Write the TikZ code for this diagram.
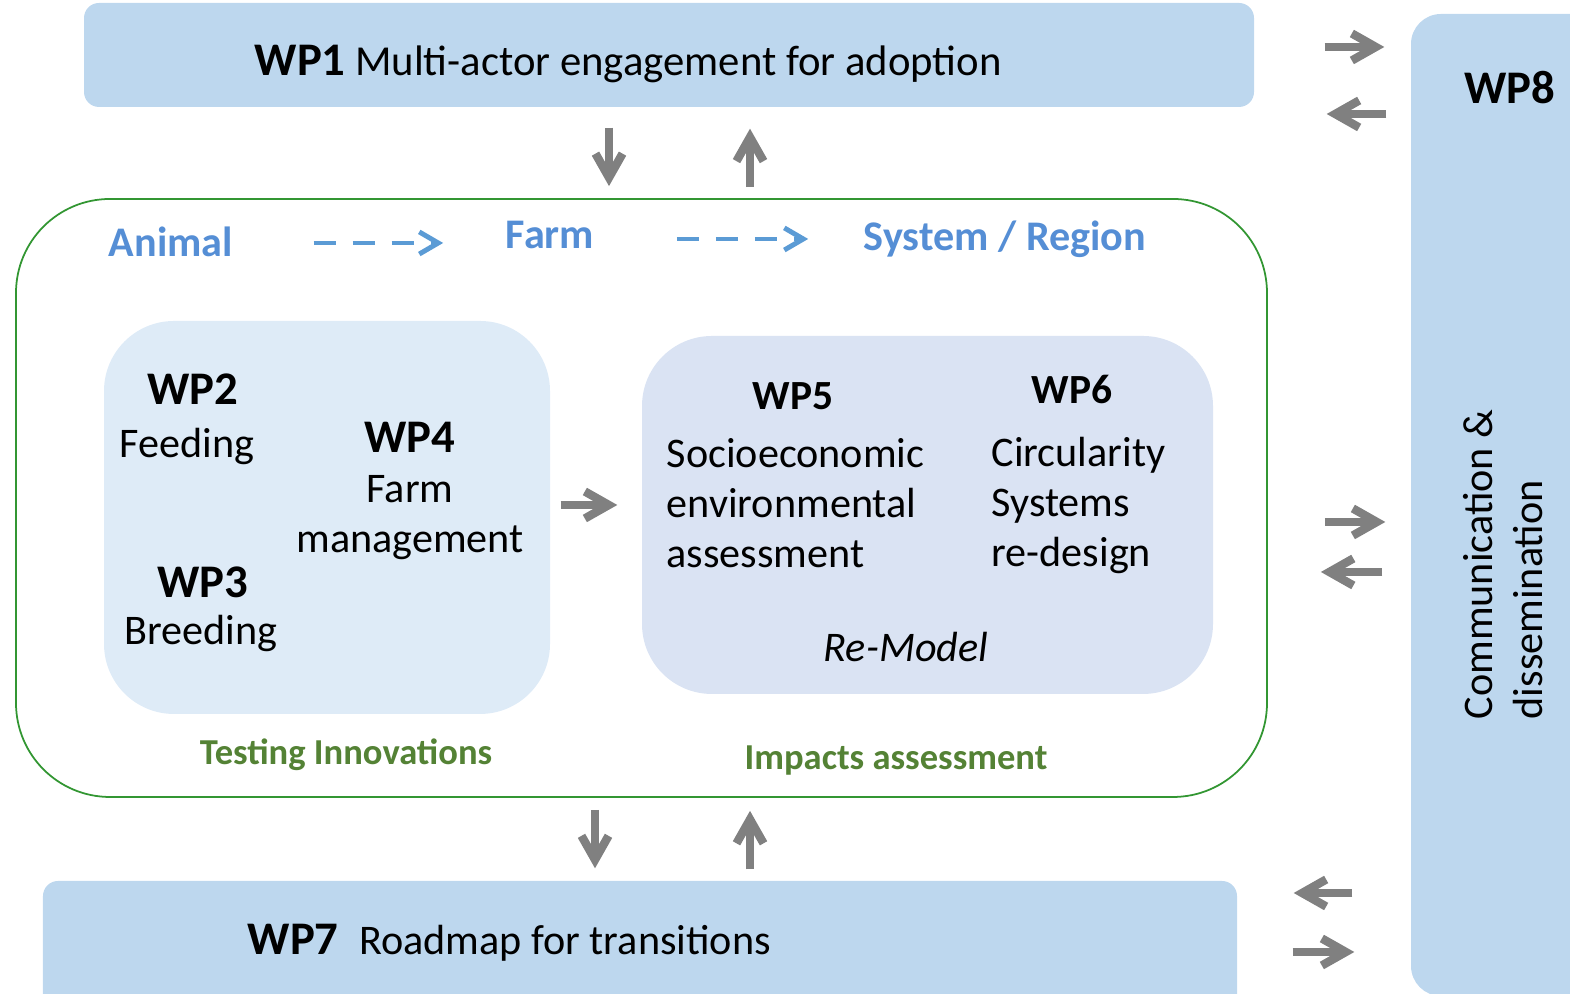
\documentclass[tikz,border=0pt]{standalone}
\usepackage{fontspec}
\setmainfont{Carlito}
\usetikzlibrary{arrows.meta}
\definecolor{wpblue}{RGB}{189,215,238}
\definecolor{testfill}{RGB}{222,235,247}
\definecolor{impactfill}{RGB}{218,227,243}
\definecolor{linkgray}{RGB}{128,128,128}
\definecolor{labelblue}{RGB}{85,142,213}
\definecolor{dashblue}{RGB}{91,155,213}
\definecolor{groupgreen}{RGB}{84,130,53}
\definecolor{framegreen}{RGB}{50,150,50}
\begin{document}
\begin{tikzpicture}[
    font=\fontsize{12}{14.3}\selectfont,
    bar/.style={fill=wpblue, rounded corners=0.15cm, inner sep=0},
    inbox/.style={rounded corners=0.7cm, inner sep=0},
    wp/.style={font=\fontsize{13.3}{16}\selectfont\bfseries, inner sep=0, anchor=base},
    txt/.style={inner sep=0, align=left, anchor=base west},
    scale label/.style={font=\fontsize{12}{14.3}\selectfont\bfseries, text=labelblue, inner sep=0, anchor=base},
    group label/.style={font=\fontsize{10.4}{12.5}\selectfont\bfseries, text=groupgreen, inner sep=0, anchor=base},
    link/.style={draw=linkgray, line width=2.4pt, -{Straight Barb[length=6.8pt,width=7.7pt]}},
    scale link/.style={draw=dashblue, line width=1.4pt, dash pattern=on 0.22cm off 0.17cm, -{Straight Barb[length=5.4pt,width=6.3pt]}},
]
    \useasboundingbox (0,0) rectangle (15.70,9.94);
    %% work package bars
    \node[bar, minimum width=11.70cm, minimum height=1.04cm] (wp1) at (6.69,9.39) {};
    \node[bar, minimum width=11.94cm, minimum height=1.33cm] (wp7) at (6.40,0.465) {};
    \node[bar, rounded corners=0.3cm, minimum width=1.89cm, minimum height=9.82cm] (wp8) at (15.055,4.89) {};
    \node[anchor=base west, inner sep=0] (wp1t) at (2.54,9.18) {{\fontsize{13.3}{16}\selectfont\bfseries WP1} \fontsize{12.15}{14.5}\selectfont Multi-actor engagement for adoption};
    \node[anchor=base west, inner sep=0] (wp7t) at (2.47,0.39) {{\fontsize{13.3}{16}\selectfont\bfseries WP7}\hspace{0.11cm} Roadmap for transitions};
    \node[wp] (wp8t) at (15.10,8.90) {WP8};
    \node[rotate=90, anchor=west, align=left, inner sep=0] (comm) at (15.03,2.74) {Communication \&\\dissemination};
    %% scales frame
    \node[draw=framegreen, line width=0.5pt, rounded corners=0.94cm, minimum width=12.51cm, minimum height=5.98cm, inner sep=0] (scales) at (6.415,4.96) {};
    \node[scale label] (animal) at (1.71,7.37) {Animal};
    \node[scale label] (farm) at (5.50,7.45) {Farm};
    \node[scale label] (region) at (10.05,7.43) {System / Region};
    \draw[scale link, shorten <=0.80cm, shorten >=0.62cm] (animal.east |- 0,7.51) -- (farm.west |- 0,7.51);
    \draw[scale link, shorten <=0.82cm, shorten >=0.55cm] (farm.east |- 0,7.55) -- (region.west |- 0,7.55);
    %% testing innovations
    \node[inbox, fill=testfill, minimum width=4.46cm, minimum height=3.93cm] (testbox) at (3.27,4.765) {};
    \node[wp] (wp2) at (1.93,5.89) {WP2};
    \node[txt] (feeding) at (1.19,5.36) {Feeding};
    \node[wp] (wp4) at (4.10,5.41) {WP4};
    \node[txt, align=center, anchor=base] (mgmt) at (4.10,4.41) {Farm\\management};
    \node[wp] (wp3) at (2.03,3.96) {WP3};
    \node[txt] (breeding) at (1.24,3.49) {Breeding};
    \node[group label] (testing) at (3.46,2.29) {Testing Innovations};
    %% impacts assessment
    \node[inbox, fill=impactfill, minimum width=5.71cm, minimum height=3.58cm] (impactbox) at (9.275,4.79) {};
    \node[wp, font=\fontsize{11.8}{14}\selectfont\bfseries] (wp5) at (7.93,5.84) {WP5};
    \node[wp, font=\fontsize{11.8}{14}\selectfont\bfseries] (wp6) at (10.72,5.90) {WP6};
    \node[txt] (socio) at (6.66,4.26) {Socioeconomic\\environmental\\assessment};
    \node[txt] (circ) at (9.91,4.27) {Circularity\\Systems\\re-design};
    \node[inner sep=0, anchor=base, font=\fontsize{12}{14.3}\selectfont\itshape] (remodel) at (9.06,3.32) {Re-Model};
    \node[group label] (impacts) at (8.96,2.24) {Impacts assessment};
    %% links
    \draw[link, shorten <=0.20cm, shorten >=0.12cm] (wp1.south -| 6.09,0) -- (scales.north -| 6.09,0);
    \draw[link, shorten <=0.11cm, shorten >=0.21cm] (scales.north -| 7.50,0) -- (wp1.south -| 7.50,0);
    \draw[link, shorten <=0.12cm, shorten >=0.12cm] (scales.south -| 5.95,0) -- (wp7.north -| 5.95,0);
    \draw[link, shorten <=0.11cm, shorten >=0.13cm] (wp7.north -| 7.50,0) -- (scales.south -| 7.50,0);
    \draw[link, shorten <=0.10cm, shorten >=0.24cm] (testbox.east |- 0,4.89) -- (impactbox.west |- 0,4.89);
    \draw[link, shorten <=0.70cm, shorten >=0.26cm] (wp1.east |- 0,9.47) -- (wp8.west |- 0,9.47);
    \draw[link, shorten <=0.24cm, shorten >=0.72cm] (wp8.west |- 0,8.80) -- (wp1.east |- 0,8.80);
    \draw[link, shorten <=0.57cm, shorten >=0.25cm] (scales.east |- 0,4.72) -- (wp8.west |- 0,4.72);
    \draw[link, shorten <=0.28cm, shorten >=0.53cm] (wp8.west |- 0,4.22) -- (scales.east |- 0,4.22);
    \draw[link, shorten <=0.58cm, shorten >=0.56cm] (wp8.west |- 0,1.01) -- (wp7.east |- 0,1.01);
    \draw[link, shorten <=0.55cm, shorten >=0.56cm] (wp7.east |- 0,0.42) -- (wp8.west |- 0,0.42);
\end{tikzpicture}
\end{document}
